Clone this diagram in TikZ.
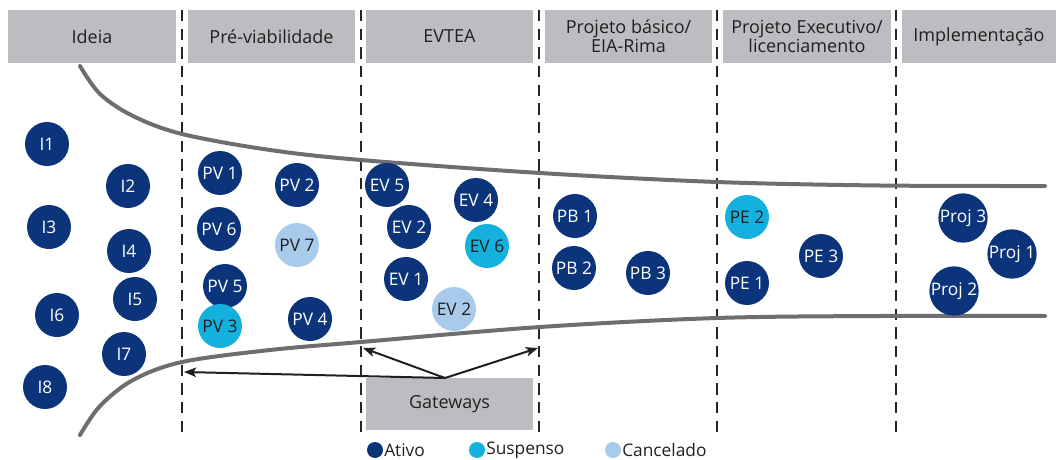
\documentclass[tikz,border=0pt]{standalone}
\usepackage{fontspec}
\setmainfont{Open Sans}
\usetikzlibrary{arrows.meta}
\definecolor{ativo}{RGB}{11,52,122}
\definecolor{susp}{RGB}{20,177,222}
\definecolor{canc}{RGB}{168,203,235}
\definecolor{boxgray}{RGB}{188,189,192}
\definecolor{curvegray}{RGB}{109,110,113}
\definecolor{txt}{RGB}{35,31,32}
\tikzset{
  hdr/.style={fill=boxgray, draw=none, text=txt, font=\fontsize{13.5}{14.5}\selectfont, align=center, inner sep=0pt},
  ball/.style={circle, draw=none, inner sep=0pt, minimum size=33pt, font=\fontsize{13}{14}\selectfont},
  act/.style={ball, fill=ativo, text=white},
  sus/.style={ball, fill=susp, text=txt},
  can/.style={ball, fill=canc, text=txt},
  sep/.style={draw=black!85, line width=1.6pt, dash pattern=on 8.5pt off 5.5pt},
  bound/.style={draw=curvegray, line width=3pt, line cap=round},
  gwarrow/.style={draw=txt, line width=1.5pt, -{Stealth[length=9pt,width=7pt,inset=2pt]}},
  legdot/.style={circle, inner sep=0pt, minimum size=12pt},
  legtxt/.style={anchor=west, text=txt, font=\fontsize{13}{14}\selectfont, inner sep=0pt}
}
\begin{document}
\begin{tikzpicture}[x=0.75pt,y=-0.75pt]
\useasboundingbox (0,0) rectangle (1056,460);
% header boxes
\node[hdr, minimum width=126pt, minimum height=39.75pt] (h1) at (92,36.5) {Ideia};
\node[hdr, minimum width=125.25pt, minimum height=39.75pt] (h2) at (271.5,36.5) {Pré-viabilidade};
\node[hdr, minimum width=125.25pt, minimum height=39.75pt] (h3) at (449.5,36.5) {EVTEA};
\node[hdr, minimum width=125.25pt, minimum height=39.75pt] (h4) at (628.5,36.5) {Projeto básico/\\EIA-Rima};
\node[hdr, minimum width=126pt, minimum height=39.75pt] (h5) at (807,36.5) {Projeto Executivo/\\licenciamento};
\node[hdr, minimum width=115.5pt, minimum height=39.75pt] (h6) at (979,36.5) {Implementação};
% separators
\foreach \x/\n in {182/s1,361/s2,539/s3,717/s4,896/s5}{
  \coordinate (\n t) at (\x,10);
  \coordinate (\n b) at (\x,434);
  \draw[sep] (\n t) -- (\n b);
}
% boundary curves
\draw[bound] plot[smooth, tension=0.55] coordinates {(80,66) (100,94) (133,116) (182,134) (270,150) (361,160) (540,173) (717,182) (880,185.5) (1045,186)};
\draw[bound] plot[smooth, tension=0.55] coordinates {(80,435) (100,406) (133,380) (182,362) (270,350) (361,342) (540,327) (717,318) (880,316) (1045,316)};
% Ideia
\node[act] (i1) at (47,144) {I1};
\node[act] (i2) at (128,186) {I2};
\node[act] (i3) at (49,227) {I3};
\node[act] (i4) at (129,251) {I4};
\node[act] (i5) at (135,299) {I5};
\node[act] (i6) at (57,315) {I6};
\node[act] (i7) at (124,354) {I7};
\node[act] (i8) at (45,387) {I8};
% Pre-viabilidade
\node[act] (pv1) at (220,173) {PV 1};
\node[act] (pv2) at (297,185) {PV 2};
\node[act] (pv6) at (219,229) {PV 6};
\node[can] (pv7) at (297,245) {PV 7};
\node[act] (pv5) at (225,286) {PV 5};
\node[sus] (pv3) at (220,326) {PV 3};
\node[act] (pv4) at (310,319) {PV 4};
% EVTEA
\node[act] (ev5) at (387,185) {EV 5};
\node[act] (ev4) at (476,200) {EV 4};
\node[act] (ev2a) at (409,227) {EV 2};
\node[sus] (ev6) at (487,246) {EV 6};
\node[act] (ev1) at (406,279) {EV 1};
\node[can] (ev2b) at (454,309) {EV 2};
% Projeto basico
\node[act] (pb1) at (575,216) {PB 1};
\node[act] (pb2) at (574,268) {PB 2};
\node[act] (pb3) at (648,273) {PB 3};
% Projeto executivo
\node[sus] (pe2) at (747,217) {PE 2};
\node[act] (pe1) at (747,283) {PE 1};
\node[act] (pe3) at (821,256) {PE 3};
% Implementacao
\node[act] (pj3) at (963,218) {Proj 3};
\node[act] (pj1) at (1012,254) {Proj 1};
\node[act] (pj2) at (954,291) {Proj 2};
% gateways
\node[hdr, minimum width=125.25pt, minimum height=39pt] (gw) at (449.5,404) {Gateways};
\coordinate (gwtop) at (445,378);
\coordinate (g1) at (184,372);
\coordinate (g2) at (363,348);
\coordinate (g3) at (538,348);
\draw[gwarrow] (gwtop) -- (g1);
\draw[gwarrow] (gwtop) -- (g2);
\draw[gwarrow] (gwtop) -- (g3);
% legend
\node[legdot, fill=ativo] (la) at (375,450) {};
\node[legtxt] (lat) at (384,450) {Ativo};
\node[legdot, fill=susp] (ls) at (477,450) {};
\node[legtxt] (lst) at (486,450) {Suspenso};
\node[legdot, fill=canc] (lc) at (613,450) {};
\node[legtxt] (lct) at (622,450) {Cancelado};
\end{tikzpicture}
\end{document}
